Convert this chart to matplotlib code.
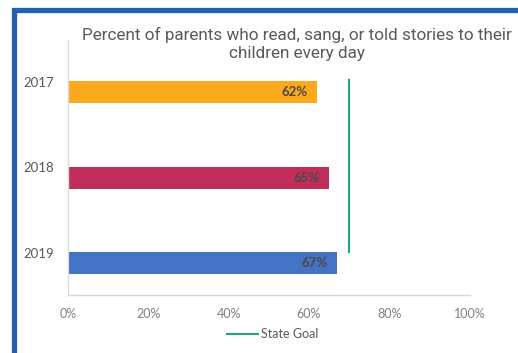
import matplotlib.pyplot as plt
from matplotlib.patches import Rectangle
from matplotlib.lines import Line2D

# DATA
years = ['2017', '2018', '2019']
percent = [62, 65, 67]
state_goal = 70
bar_colors = ['#f9a91b', '#bf2f59', '#4472c4']
x_ticks = [0, 20, 40, 60, 80, 100]

fig = plt.figure(figsize=(5.18, 3.53), dpi=100)
ax = fig.add_axes([0.131, 0.164, 0.776, 0.723])

pos = list(range(len(years)))
ax.barh(pos, percent, height=0.257, color=bar_colors)

# value labels inside bar ends
for y, v in zip(pos, percent):
    ax.text(v - 2.3, y, f'{v}%', ha='right', va='center', fontsize=9.5,
            fontweight='bold', color='#4a4a4a', family='Lato')

# state goal line
ax.axvline(state_goal, ymin=0.169, ymax=0.843, color='#1fa57a', linewidth=1.5)

ax.set_xlim(0, 100)
ax.set_ylim(2.374, -0.608)
ax.set_xticks(x_ticks)
ax.set_xticklabels([f'{t}%' for t in x_ticks], family='Lato', fontsize=9, color='#7f7f7f')
ax.set_yticks([p - 0.12 for p in pos])
ax.set_yticklabels(years, family='Lato', fontsize=9.5, color='#595959')
ax.tick_params(length=0)
ax.tick_params(axis='x', pad=9)
ax.tick_params(axis='y', pad=10)

for s in ['top', 'right']:
    ax.spines[s].set_visible(False)
for s in ['left', 'bottom']:
    ax.spines[s].set_color('#d9d9d9')
    ax.spines[s].set_linewidth(1)

fig.text(0.573, 1 - 44 / 353, 'Percent of parents who read, sang, or told stories to their\nchildren every day',
         ha='center', va='center', fontsize=12.3, family='Roboto', color='#595959',
         linespacing=1.3)

# legend
fig.add_artist(Line2D([227 / 518, 258 / 518], [1 - 334 / 353] * 2, color='#1fa57a', linewidth=1.5))
fig.text(261 / 518, 1 - 334 / 353, 'State Goal', ha='left', va='center', fontsize=9,
         family='Lato', color='#595959')

# blue frame
fig.add_artist(Rectangle((13.5 / 518, -0.1), 1.2, 1.1 - 10.5 / 353,
                         transform=fig.transFigure, fill=False,
                         edgecolor='#2262b3', linewidth=3.8))

fig.savefig('out.png', dpi=100)
